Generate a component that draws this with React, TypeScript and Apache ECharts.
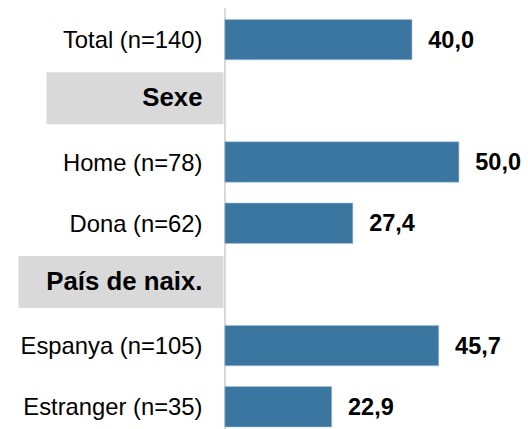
import React, { useEffect, useRef } from "react";
import * as echarts from "echarts";

const categories = [
  "Total (n=140)",
  "Sexe",
  "Home (n=78)",
  "Dona (n=62)",
  "País de naix.",
  "Espanya (n=105)",
  "Estranger (n=35)",
];
const headers = ["Sexe", "País de naix."];
const values: (number | null)[] = [40.0, null, 50.0, 27.4, null, 45.7, 22.9];

export default function App() {
  const ref = useRef<HTMLDivElement>(null);
  useEffect(() => {
    if (!ref.current) return;
    const chart = echarts.init(ref.current, undefined, { renderer: "svg" });
    const font = "'Liberation Sans', Arial, sans-serif";
    const header = (w: number) => ({
      fontFamily: font,
      fontSize: 25.8,
      fontWeight: "bold",
      color: "#000",
      backgroundColor: "#d9d9d9",
      width: w,
      height: 50,
      lineHeight: 57,
      verticalAlign: "top",
      align: "right",
      padding: [0, 21, 2, 0],
    });
    chart.setOption({
      animation: false,
      grid: { left: 224.5, top: 9, width: 281.7, height: 428.4 },
      xAxis: {
        type: "value",
        min: 0,
        max: 60,
        show: false,
      },
      yAxis: {
        type: "category",
        inverse: true,
        data: categories,
        axisTick: { show: false },
        axisLine: { show: true, lineStyle: { color: "#d9d9d9", width: 2 } },
        axisLabel: {
          margin: 1,
          fontFamily: font,
          formatter: (v: string) => {
            const i = headers.indexOf(v);
            if (i === 0) return "{h1|" + v + "}";
            if (i === 1) return "{h2|" + v + "}";
            return "{n|" + v + "}";
          },
          rich: {
            n: {
              fontFamily: font,
              fontSize: 23.8,
              color: "#000",
              padding: [0, 21, 0, 0],
            },
            h1: header(156),
            h2: header(184),
          },
        },
      },
      series: [
        {
          type: "bar",
          data: values.map((v) => (v == null ? "-" : v)),
          barCategoryGap: "33%",
          itemStyle: { color: "#3a76a0", borderColor: "#a9c3d6", borderWidth: 0.6 },
          label: {
            show: true,
            position: "right",
            distance: 16,
            fontFamily: font,
            fontSize: 23.5,
            fontWeight: "bold",
            color: "#000",
            formatter: (p: any) => Number(p.value).toFixed(1).replace(".", ","),
          },
        },
      ],
    });
    return () => chart.dispose();
  }, []);
  return (
    <div
      ref={ref}
      style={{ position: "fixed", left: 0, top: 0, width: 528, height: 445, background: "#fff" }}
    />
  );
}
